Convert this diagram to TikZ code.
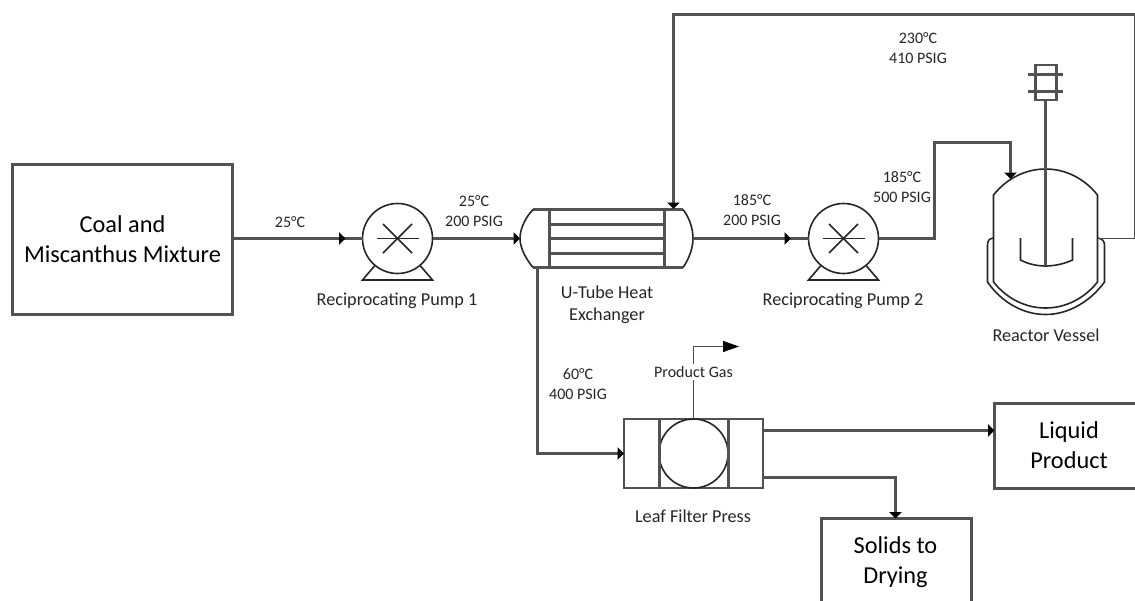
\documentclass[tikz,border=0pt]{standalone}
\usepackage{fontspec}
\setmainfont{Carlito}
\usetikzlibrary{arrows.meta,decorations.markings,calc}
\tikzset{
  x=1pt,y=-1pt,
  pipe/.style={line width=2.1pt,black!68},
  thinpipe/.style={line width=1pt,black!70},
  equip/.style={line width=2.1pt,black!68},
  curved/.style={line width=1.6pt,black!85},
  block/.style={draw=black!68,line width=2.1pt,fill=white,inner sep=0pt,outer sep=0pt,anchor=north west,align=center,font=\fontsize{24.3}{30}\selectfont},
  pumpc/.style={draw=black!85,line width=1.6pt,circle,minimum size=70pt,inner sep=0pt,outer sep=0pt},
  ghost/.style={inner sep=0pt,outer sep=0pt,rectangle},
  lbl/.style={inner sep=0pt,align=center,text=black!85,font=\fontsize{16}{20}\selectfont},
  lblb/.style={inner sep=0pt,align=center,text=black!85,font=\fontsize{18.2}{22}\selectfont},
  tipin/.tip={Triangle[length=6.5pt,width=12.5pt,black]},
  tipmid/.style={postaction={decorate},decoration={markings,mark=at position #1 with {\arrow{tipin}}}},
}
\newcommand{\pumpbody}[2]{%
  \node[pumpc] (#1) at (#2,238.5) {};
  \begin{scope}[shift={(#2,238.5)},curved]
    \draw (-21,0) -- (21,0);
    \draw (-14.5,-14.5) -- (14.5,14.5);
    \draw (14.5,-14.5) -- (-14.5,14.5);
    \draw (-23,27.5) -- (-35,41.5) -- (35,41.5) -- (23,27.5);
  \end{scope}}
\begin{document}
\begin{tikzpicture}
\useasboundingbox (0,0) rectangle (1135,600);
\begin{scope}
\clip (0,0) rectangle (1135,600);
% blocks
\node[block,minimum width=220pt,minimum height=150pt] (coal) at (12.5,164.5) {Coal and\\Miscanthus Mixture};
\node[block,minimum width=160pt,minimum height=85pt,text width=150pt] (liquid) at (994.5,403.5) {};
\node[inner sep=0pt,align=center,font=\fontsize{24.3}{30}\selectfont] (liquidtxt) at (1069,445) {Liquid\\Product};
\node[block,minimum width=150pt,minimum height=100pt,anchor=north west] (solids) at (821.5,518.5) {};
\node[inner sep=0pt,align=center,font=\fontsize{24.3}{30}\selectfont] (solidstxt) at (895.5,562) {Solids to\\Drying};
% pumps
\pumpbody{pa}{397.5}
\pumpbody{pb}{843.5}
% heat exchanger
\node[ghost,minimum width=173pt,minimum height=58pt] (hx) at (606.5,238.5) {};
\draw[equip] (533,209.5) -- (683,209.5) (683,267.5) -- (533,267.5);
\draw[curved] (683,209.5) .. controls (689,217) and (693,228) .. (693,238.5) .. controls (693,248) and (689,259) .. (683,267.5);
\draw[curved] (533,267.5) .. controls (526,259) and (520,248) .. (520,238.5) .. controls (520,228) and (526,217) .. (533,209.5);
\draw[equip] (549.5,209.5) -- (549.5,267.5) (664.5,209.5) -- (664.5,267.5);
\draw[equip] (549.5,224.5) -- (664.5,224.5) (549.5,238.5) -- (664.5,238.5) (549.5,253.5) -- (664.5,253.5);
\coordinate (hxtop) at (673.5,209);
\coordinate (hxbot) at (537.5,267.5);
% reactor
\node[ghost,minimum width=105pt,minimum height=139pt] (rx) at (1045.5,238.5) {};
\draw[curved] (993.5,195) .. controls (1007,178) and (1026,169) .. (1045.5,169) .. controls (1065,169) and (1084,178) .. (1097.5,195) -- (1097.5,282) .. controls (1084,299) and (1065,308) .. (1045.5,308) .. controls (1026,308) and (1007,299) .. (993.5,282) -- cycle;
\draw[curved] (993.5,238) .. controls (989,238.5) and (987.5,241) .. (987.5,245) -- (987.5,282) .. controls (1002,303) and (1024,314.5) .. (1045.5,314.5) .. controls (1067,314.5) and (1089,303) .. (1104.5,282) -- (1104.5,245) .. controls (1104.5,241) and (1102,238.5) .. (1097.5,238);
\draw[curved] (1020.5,238) -- (1020.5,260) .. controls (1028,264) and (1037,266) .. (1045.5,266) .. controls (1054,266) and (1064,264) .. (1072.5,260) -- (1072.5,238);
\node[draw=black!68,line width=2.1pt,ghost,minimum width=21pt,minimum height=35.5pt] (motor) at (1046,82.5) {};
\draw[equip] (1028,74.5) -- (1063,74.5) (1028,91.5) -- (1063,91.5);
\coordinate (shaftend) at (1045.5,266);
\draw[equip] (motor.south -| shaftend) -- (shaftend);
\coordinate (rxin) at (1010.5,179);
\coordinate (rxout) at (1097.5,238.5);
% filter
\node[draw=black!68,line width=2.1pt,ghost,minimum width=139pt,minimum height=69pt] (filter) at (693.5,453.5) {};
\node[draw=black!85,line width=1.6pt,circle,minimum size=69pt,inner sep=0pt,outer sep=0pt] (filterc) at (693.5,453.5) {};
\draw[equip] (659.5,419) -- (659.5,488) (728.5,419) -- (728.5,488);
% connectors
\draw[pipe,tipmid=113pt] (coal.east |- pa) -- (pa.west);
\draw[pipe,-{tipin}] (pa.east) -- (hx.west);
\draw[pipe,tipmid=98pt] (hx.east |- pb) -- (pb.west);
\coordinate (kneeA) at (934.5,238.5);
\coordinate (kneeB) at (934.5,142.5);
\coordinate (kneeC) at (1010.5,142.5);
\draw[pipe,-{tipin}] (pb.east) -- (kneeA) -- (kneeB) -- (kneeC) -- (rxin);
\coordinate (loopA) at (1134.5,238.5);
\coordinate (loopB) at (1134.5,14.5);
\coordinate (loopC) at (673.5,14.5);
\draw[thinpipe] (rxout) -- (loopA) -- (loopB);
\draw[pipe,-{tipin}] (loopB) -- (loopC) -- (hxtop);
\coordinate (filterin) at (537.5,453.5);
\draw[pipe,-{tipin}] (hxbot) -- (filterin) -- (filter.west);
\coordinate (gasknee) at (693.5,346.5);
\coordinate (gasend) at (739,346.5);
\draw[thinpipe,-{Triangle[length=16pt,width=11pt,black]}] (filterc.north) -- (gasknee) -- (gasend);
\node[lbl,fill=white,inner xsep=2pt,inner ysep=2pt] (gaslbl) at (693.5,372) {Product Gas};
\coordinate (liqfrom) at (763,430.5);
\draw[pipe,-{tipin}] (liqfrom) -- (liquid.west |- liqfrom);
\coordinate (solfrom) at (763,477.5);
\coordinate (solknee) at (895.5,477.5);
\draw[pipe,-{tipin}] (solfrom) -- (solknee) -- (solids.north -| solknee);
% labels
\node[lbl] (t1) at (290,222) {25°C};
\node[lbl] (t2) at (474,211) {25°C\\200 PSIG};
\node[lbl] (t3) at (752,210.5) {185°C\\200 PSIG};
\node[lbl] (t4) at (902,187) {185°C\\500 PSIG};
\node[lbl] (t5) at (918,48) {230°C\\410 PSIG};
\node[lbl] (t6) at (578,384) {60°C\\400 PSIG};
\node[lblb] (n1) at (397,300.5) {Reciprocating Pump 1};
\node[lblb] (n2) at (843,300.5) {Reciprocating Pump 2};
\node[lblb] (n3) at (607,305) {U-Tube Heat\\Exchanger};
\node[lblb] (n4) at (1046,335) {Reactor Vessel};
\node[lblb] (n5) at (693,516) {Leaf Filter Press};
\end{scope}
\end{tikzpicture}
\end{document}
